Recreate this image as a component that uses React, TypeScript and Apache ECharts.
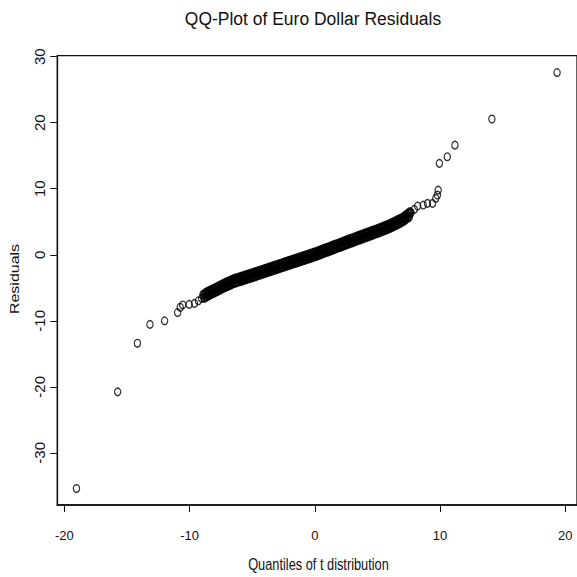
import React, { useEffect, useRef } from "react";
import * as echarts from "echarts";

// Lower tail: t quantiles and sorted residuals.
const lowerTailQuantiles = [-19.04, -15.75, -14.17, -13.17, -12.0, -10.96, -10.75, -10.55, -10.03, -9.61, -9.3, -9.04];
const lowerTailResiduals = [-35.4, -20.76, -13.4, -10.55, -10.0, -8.75, -7.95, -7.6, -7.52, -7.36, -6.97, -6.61];

// Dense centre of the distribution, where the points overlap into a solid band.
const centreQuantiles = [
  -8.9, -8.825, -8.75, -8.675, -8.6, -8.525, -8.45, -8.375, -8.3, -8.225, -8.15, -8.075,
  -8.0, -7.925, -7.85, -7.775, -7.7, -7.625, -7.55, -7.475, -7.4, -7.325, -7.25, -7.175,
  -7.1, -7.025, -6.95, -6.875, -6.8, -6.725, -6.65, -6.575, -6.5, -6.425, -6.35, -6.275,
  -6.2, -6.125, -6.05, -5.975, -5.9, -5.825, -5.75, -5.675, -5.6, -5.525, -5.45, -5.375,
  -5.3, -5.225, -5.15, -5.075, -5.0, -4.925, -4.85, -4.775, -4.7, -4.625, -4.55, -4.475,
  -4.4, -4.325, -4.25, -4.175, -4.1, -4.025, -3.95, -3.875, -3.8, -3.725, -3.65, -3.575,
  -3.5, -3.425, -3.35, -3.275, -3.2, -3.125, -3.05, -2.975, -2.9, -2.825, -2.75, -2.675,
  -2.6, -2.525, -2.45, -2.375, -2.3, -2.225, -2.15, -2.075, -2.0, -1.925, -1.85, -1.775,
  -1.7, -1.625, -1.55, -1.475, -1.4, -1.325, -1.25, -1.175, -1.1, -1.025, -0.95, -0.875,
  -0.8, -0.725, -0.65, -0.575, -0.5, -0.425, -0.35, -0.275, -0.2, -0.125, -0.05, 0.025,
  0.1, 0.175, 0.25, 0.325, 0.4, 0.475, 0.55, 0.625, 0.7, 0.775, 0.85, 0.925,
  1.0, 1.075, 1.15, 1.225, 1.3, 1.375, 1.45, 1.525, 1.6, 1.675, 1.75, 1.825,
  1.9, 1.975, 2.05, 2.125, 2.2, 2.275, 2.35, 2.425, 2.5, 2.575, 2.65, 2.725,
  2.8, 2.875, 2.95, 3.025, 3.1, 3.175, 3.25, 3.325, 3.4, 3.475, 3.55, 3.625,
  3.7, 3.775, 3.85, 3.925, 4.0, 4.075, 4.15, 4.225, 4.3, 4.375, 4.45, 4.525,
  4.6, 4.675, 4.75, 4.825, 4.9, 4.975, 5.05, 5.125, 5.2, 5.275, 5.35, 5.425,
  5.5, 5.575, 5.65, 5.725, 5.8, 5.875, 5.95, 6.025, 6.1, 6.175, 6.25, 6.325,
  6.4, 6.475, 6.55, 6.625, 6.7, 6.775, 6.85, 6.925, 7.0, 7.075, 7.15, 7.225,
  7.3, 7.375, 7.45, 7.525, 7.6,
];
const centreResiduals = [
  -6.05, -6.55, -5.85, -6.35, -5.65, -6.18, -5.5, -6.04, -5.37, -5.9, -5.23, -5.77,
  -5.1, -5.63, -4.95, -5.48, -4.8, -5.33, -4.65, -5.18, -4.5, -5.03, -4.35, -4.89,
  -4.22, -4.76, -4.1, -4.64, -3.98, -4.52, -3.85, -4.39, -3.73, -4.28, -3.62, -4.18,
  -3.53, -4.09, -3.44, -4.0, -3.35, -3.91, -3.26, -3.81, -3.16, -3.72, -3.07, -3.63,
  -2.98, -3.54, -2.89, -3.45, -2.8, -3.35, -2.7, -3.26, -2.61, -3.16, -2.51, -3.07,
  -2.42, -2.98, -2.33, -2.88, -2.23, -2.79, -2.14, -2.69, -2.04, -2.6, -1.95, -2.5,
  -1.85, -2.41, -1.76, -2.31, -1.66, -2.22, -1.57, -2.12, -1.47, -2.03, -1.38, -1.93,
  -1.28, -1.84, -1.19, -1.74, -1.09, -1.65, -1.0, -1.55, -0.9, -1.46, -0.81, -1.36,
  -0.71, -1.27, -0.62, -1.18, -0.53, -1.08, -0.43, -0.99, -0.34, -0.89, -0.24, -0.8,
  -0.15, -0.71, -0.06, -0.61, 0.04, -0.52, 0.13, -0.43, 0.22, -0.33, 0.32, -0.23,
  0.42, -0.13, 0.53, -0.02, 0.64, 0.09, 0.74, 0.2, 0.85, 0.31, 0.96, 0.42,
  1.07, 0.52, 1.17, 0.63, 1.28, 0.74, 1.39, 0.85, 1.5, 0.95, 1.6, 1.06,
  1.71, 1.17, 1.82, 1.28, 1.93, 1.38, 2.03, 1.49, 2.14, 1.6, 2.25, 1.71,
  2.36, 1.81, 2.46, 1.92, 2.57, 2.03, 2.68, 2.13, 2.78, 2.24, 2.89, 2.34,
  2.99, 2.45, 3.1, 2.55, 3.2, 2.66, 3.31, 2.76, 3.41, 2.87, 3.52, 2.97,
  3.62, 3.08, 3.73, 3.18, 3.83, 3.29, 3.94, 3.4, 4.05, 3.51, 4.16, 3.62,
  4.28, 3.74, 4.39, 3.85, 4.5, 3.96, 4.61, 4.08, 4.75, 4.22, 4.89, 4.36,
  5.03, 4.5, 5.17, 4.65, 5.32, 4.79, 5.46, 4.93, 5.6, 5.11, 5.81, 5.32,
  6.03, 5.54, 6.24, 5.75, 6.46,
];

// Upper tail: t quantiles and sorted residuals.
const upperTailQuantiles = [7.69, 7.95, 8.21, 8.66, 9.0, 9.4, 9.66, 9.79, 9.85, 9.95, 10.58, 11.19, 14.14, 19.35];
const upperTailResiduals = [6.36, 6.88, 7.38, 7.53, 7.79, 7.79, 8.55, 9.05, 9.8, 13.85, 14.85, 16.6, 20.56, 27.6];

const xTicks = [-20, -10, 0, 10, 20];
const yTicks = [-30, -20, -10, 0, 10, 20, 30];

const titleText = "QQ-Plot of Euro Dollar Residuals";
const xName = "Quantiles of t distribution";
const yName = "Residuals";

const FONT = '"Liberation Sans", Arial, Helvetica, sans-serif';
const INK = "#111";

const pairs = (xs: number[], ys: number[]) =>
  xs.slice(0, Math.min(xs.length, ys.length)).map((x, i) => [x, ys[i]]);

const ringSeries = (data: number[][], strokeWidth: number) => ({
  type: "scatter",
  data,
  symbol: "circle",
  symbolSize: [6.3, 7.6],
  itemStyle: { color: "rgba(0,0,0,0)", borderColor: "#000", borderWidth: strokeWidth },
  emphasis: { disabled: true },
});

export default function App() {
  const ref = useRef<HTMLDivElement>(null);

  useEffect(() => {
    if (!ref.current) return;
    const chart = echarts.init(ref.current, undefined, { renderer: "svg" });

    chart.setOption({
      animation: false,
      backgroundColor: "#fff",
      grid: {
        left: 57.3,
        top: 55.7,
        width: 525.5,
        height: 449.3,
        show: true,
        borderColor: INK,
        borderWidth: 1.3,
        containLabel: false,
      },
      xAxis: {
        type: "value",
        min: -20.57,
        max: 20.94,
        axisLine: { show: true, onZero: false, lineStyle: { color: INK, width: 1.5 } },
        axisTick: {
          show: true,
          customValues: xTicks,
          length: 7,
          lineStyle: { color: INK, width: 1 },
        },
        axisLabel: {
          customValues: xTicks,
          fontSize: 13,
          fontFamily: FONT,
          color: INK,
          margin: 24,
        },
        splitLine: { show: false },
      },
      yAxis: {
        type: "value",
        min: -37.9,
        max: 30.15,
        axisLine: { show: true, onZero: false, lineStyle: { color: INK, width: 1.3 } },
        axisTick: {
          show: true,
          customValues: yTicks,
          length: 7,
          lineStyle: { color: INK, width: 1 },
        },
        axisLabel: {
          customValues: yTicks,
          rotate: 90,
          fontSize: 15,
          fontFamily: FONT,
          color: INK,
          margin: 10,
        },
        splitLine: { show: false },
      },
      graphic: [
        {
          type: "text",
          x: 313,
          y: 18,
          scaleX: 0.92,
          style: {
            text: titleText,
            font: `19px ${FONT}`,
            fill: INK,
            textAlign: "center",
            textVerticalAlign: "middle",
          },
        },
        {
          type: "text",
          x: 318.5,
          y: 564,
          scaleX: 0.8,
          style: {
            text: xName,
            font: `16px ${FONT}`,
            fill: INK,
            textAlign: "center",
            textVerticalAlign: "middle",
          },
        },
        {
          type: "text",
          x: 15,
          y: 279,
          rotation: Math.PI / 2,
          scaleY: 0.8,
          style: {
            text: yName,
            font: `16px ${FONT}`,
            fill: INK,
            textAlign: "center",
            textVerticalAlign: "middle",
          },
        },
      ],
      series: [
        ringSeries(pairs(lowerTailQuantiles, lowerTailResiduals), 1.3),
        ringSeries(pairs(centreQuantiles, centreResiduals), 2.2),
        ringSeries(pairs(upperTailQuantiles, upperTailResiduals), 1.3),
      ],
    });

    return () => chart.dispose();
  }, []);

  return (
    <div
      ref={ref}
      style={{ position: "absolute", left: 0, top: 0, width: 577, height: 577 }}
    />
  );
}
